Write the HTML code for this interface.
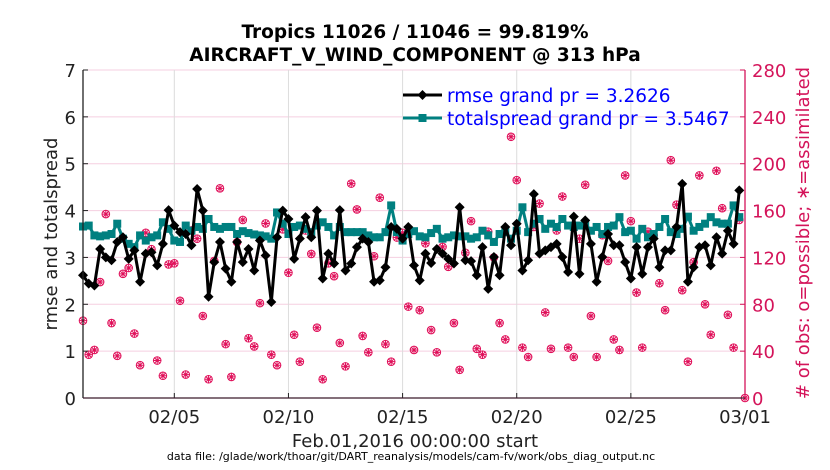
<!DOCTYPE html>
<html><head><meta charset="utf-8"><style>
html,body{margin:0;padding:0;background:#fff;}
svg{display:block;font-family:"DejaVu Sans","Liberation Sans",sans-serif;}
</style></head><body>
<svg id="chart" width="830" height="470" viewBox="0 0 830 470" xmlns="http://www.w3.org/2000/svg">
<text x="415" y="38" text-anchor="middle" font-size="18.5" font-weight="bold" fill="#000">Tropics 11026 / 11046 = 99.819%</text>
<text x="415" y="61" text-anchor="middle" font-size="18.5" font-weight="bold" fill="#000">AIRCRAFT_V_WIND_COMPONENT @ 313 hPa</text>
<g id="grid"></g>
<g id="obs"></g>
<g id="spread"></g>
<g id="rmse"></g>
<g id="axes"></g>
<g>
 <line x1="403" y1="95" x2="442" y2="95" stroke="#000" stroke-width="3"/>
 <path d="M422.5,90 L427.5,95 L422.5,100 L417.5,95Z" fill="#000"/>
 <text x="447" y="102" font-size="18.5" fill="#0000ff">rmse grand pr = 3.2626</text>
 <line x1="403" y1="118" x2="442" y2="118" stroke="#008080" stroke-width="3"/>
 <rect x="418.5" y="114" width="8" height="8" fill="#008080"/>
 <text x="447" y="125" font-size="18.5" fill="#0000ff">totalspread grand pr = 3.5467</text>
</g>
<text transform="translate(57,234) rotate(-90)" text-anchor="middle" font-size="18" fill="#222">rmse and totalspread</text>
<text transform="translate(809,233) rotate(-90)" text-anchor="middle" font-size="18" fill="#d4145a"># of obs: o=possible; ∗=assimilated</text>
<text x="415" y="447" text-anchor="middle" font-size="18" fill="#222">Feb.01,2016 00:00:00 start</text>
<text x="411" y="460" text-anchor="middle" font-size="11" fill="#000">data file: /glade/work/thoar/git/DART_reanalysis/models/cam-fv/work/obs_diag_output.nc</text>
</svg>
<script>
const rmseVals=[2.62,2.44,2.40,3.18,3.0,2.94,3.33,3.43,2.97,3.15,2.48,3.08,3.11,2.83,3.29,4.01,3.68,3.54,3.5,3.26,4.46,4.0,2.16,2.9,3.33,2.76,2.48,3.33,2.9,3.18,
2.72,3.36,3.04,2.05,3.43,4.0,3.82,2.97,3.4,3.86,3.43,4.0,2.55,3.08,2.87,4.01,2.72,2.87,3.22,3.4,3.33,2.48,2.51,2.79,3.65,3.61,3.4,3.65,2.83,
2.51,3.08,2.88,3.18,3.08,2.97,2.87,4.07,2.94,2.92,2.62,3.22,2.33,3.01,2.62,3.65,3.26,3.72,2.72,2.94,4.35,3.08,3.15,3.22,3.29,3.01,2.69,3.87,
2.65,3.79,3.29,2.48,3.01,3.5,3.26,3.26,2.9,2.55,3.22,2.65,3.22,3.4,2.79,3.15,3.15,3.65,4.57,2.48,2.79,3.22,3.26,2.83,3.43,3.08,3.57,3.29,4.43];
const spreadVals=[3.66,3.68,3.47,3.45,3.47,3.5,3.72,3.4,3.29,3.22,3.47,3.36,3.43,3.47,3.75,3.61,3.36,3.33,3.68,3.57,3.65,3.61,3.82,3.65,3.61,3.65,3.65,3.5,3.56,3.52,
3.49,3.47,3.45,3.4,3.96,3.72,3.5,3.65,3.68,3.61,3.54,3.68,3.75,3.65,3.47,3.65,3.54,3.54,3.54,3.54,3.47,3.43,3.43,3.54,4.11,3.54,3.36,3.5,3.56,
3.45,3.43,3.52,3.61,3.4,3.43,3.47,3.45,3.45,3.4,3.43,3.57,3.47,3.33,3.5,3.54,3.4,3.57,4.07,3.54,3.72,3.82,3.61,3.72,3.65,3.82,3.68,3.65,
3.68,3.72,3.57,3.65,3.5,3.65,3.68,3.86,3.54,3.57,3.4,3.61,3.43,3.5,3.65,3.82,3.54,3.5,3.61,3.87,3.57,3.65,3.72,3.86,3.75,3.72,3.72,4.11,3.86];
const obsCounts=[66,37,41,99,157,64,36,106,111,55,28,141,127,32,19,114,115,83,20,143,136,70,16,117,179,46,18,133,152,51,
44,81,149,37,28,144,107,54,31,143,123,60,16,115,104,47,27,183,161,53,39,121,171,46,31,137,141,78,41,
75,132,58,39,129,112,64,24,124,151,42,37,142,120,64,50,223,186,43,35,146,166,73,42,143,172,43,35,
136,182,70,35,139,117,50,41,190,151,90,43,142,139,98,75,203,165,92,31,116,190,80,54,194,162,71,43,152,0];
const leftTicks=[0,1,2,3,4,5,6,7];
const rightTicks=[0,40,80,120,160,200,240,280];
const xTickDays=[4,9,14,19,24,29];
const xTickLabels=["02/05","02/10","02/15","02/20","02/25","03/01"];
const stepDays=0.25;

const NS="http://www.w3.org/2000/svg";
const X0=83,X1=745,Y0=398,Y1=70;
function xs(d){return X0+(X1-X0)*d/29;}
function yl(v){return Y0-(Y0-Y1)*v/7;}
function yr(n){return Y0-(Y0-Y1)*n/280;}
function mk(tag,attrs,parent){const e=document.createElementNS(NS,tag);for(const k in attrs)e.setAttribute(k,attrs[k]);parent.appendChild(e);return e;}
const grid=document.getElementById('grid'),axes=document.getElementById('axes');
leftTicks.forEach(v=>{
  const l=mk('line',{x1:X0,x2:X1,y1:yl(v),y2:yl(v),stroke:'#f5cfe0','stroke-width':1},grid);
  
  
  const t=mk('text',{x:X0-7,y:yl(v)+7,'text-anchor':'end','font-size':18,fill:'#222'},axes);
  t.textContent=v;
  
  
  mk('line',{x1:X0,x2:X0+5,y1:yl(v),y2:yl(v),stroke:'#222'},axes);
});
rightTicks.forEach(n=>{
  const t=mk('text',{x:X1+7,y:yr(n)+7,'font-size':18,fill:'#d4145a'},axes);
  t.textContent=n;
  
  
  mk('line',{x1:X1-5,x2:X1,y1:yr(n),y2:yr(n),stroke:'#d4145a'},axes);
});
xTickDays.forEach((d,i)=>{
  const gl=mk('line',{x1:xs(d),x2:xs(d),y1:Y1,y2:Y0,stroke:'#dcdcdc'},grid);
  
  
  mk('line',{x1:xs(d),x2:xs(d),y1:Y0,y2:Y0-5,stroke:'#222'},axes);
  const t=mk('text',{x:xs(d),y:Y0+25,'text-anchor':'middle','font-size':18,fill:'#222'},axes);
  t.textContent=xTickLabels[i];
  
  
});
mk('line',{x1:X0,x2:X0,y1:Y1,y2:Y0,stroke:'#222','stroke-width':1.3},axes);
mk('line',{x1:X0,x2:X1,y1:Y0,y2:Y0,stroke:'#3a1a2a','stroke-width':1.3},axes);
mk('line',{x1:X1,x2:X1,y1:Y1,y2:Y0,stroke:'#d4145a','stroke-width':1.3},axes);

const og=document.getElementById('obs');
obsCounts.forEach((n,i)=>{
  const cx=xs(i*stepDays),cy=yr(n);
  const g=mk('g',{},og);
  
  
  mk('circle',{cx:cx,cy:cy,r:3.8,fill:'none',stroke:'#e0105a','stroke-width':1},g);
  mk('path',{d:`M${cx-4},${cy}H${cx+4}M${cx},${cy-4}V${cy+4}M${cx-3},${cy-3}L${cx+3},${cy+3}M${cx-3},${cy+3}L${cx+3},${cy-3}`,stroke:'#e0105a','stroke-width':1},g);
});
function series(vals,gid,color,shape){
  const g=document.getElementById(gid);
  const pts=vals.map((v,i)=>[xs(i*stepDays),yl(v)]);
  const pl=mk('polyline',{points:pts.map(p=>p.join(',')).join(' '),fill:'none',stroke:color,'stroke-width':3,'stroke-linejoin':'round'},g);
  
  
  pts.forEach(p=>{
    let m;
    if(shape==='d') m=mk('path',{d:`M${p[0]},${p[1]-5}L${p[0]+5},${p[1]}L${p[0]},${p[1]+5}L${p[0]-5},${p[1]}Z`,fill:color},g);
    else m=mk('rect',{x:p[0]-4,y:p[1]-4,width:8,height:8,fill:color},g);
    
    
  });
}
series(spreadVals,'spread','#008080','s');
series(rmseVals,'rmse','#000000','d');
</script>
</body></html>
